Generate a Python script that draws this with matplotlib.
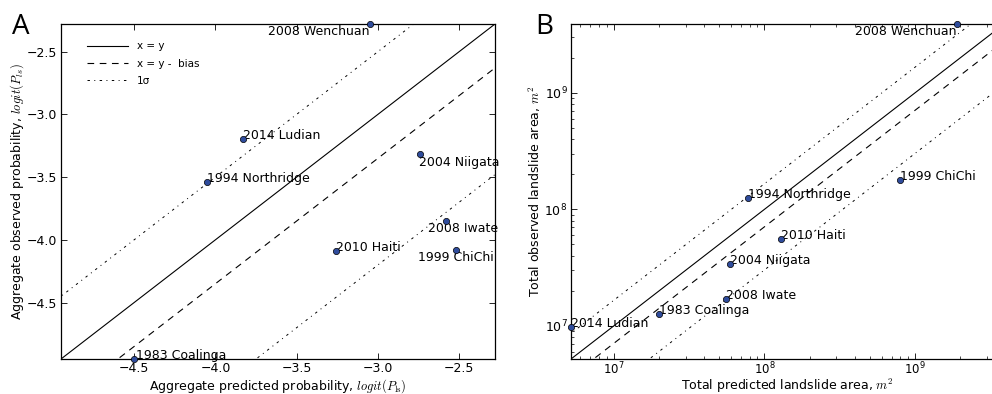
import numpy as np
import matplotlib
matplotlib.use("Agg")
import matplotlib.pyplot as plt

# ---- Data: panel A (logit of aggregate probability) ----
events = ["2008 Wenchuan", "2014 Ludian", "1994 Northridge", "2004 Niigata",
          "2008 Iwate", "1999 ChiChi", "2010 Haiti", "1983 Coalinga"]
a_pred = [-3.05, -3.83, -4.05, -2.74, -2.58, -2.52, -3.26, -4.50]
a_obs = [-2.28, -3.20, -3.54, -3.32, -3.85, -4.08, -4.09, -4.95]
a_bias = 0.35
a_sigma = 0.85

# ---- Data: panel B (total landslide area, m^2) ----
b_pred = [1.9e9, 5.2e6, 7.8e7, 5.9e7, 5.6e7, 7.9e8, 1.29e8, 2.0e7]
b_obs = [3.9e9, 9.8e6, 1.26e8, 3.4e7, 1.7e7, 1.8e8, 5.6e7, 1.26e7]
b_bias = 0.15   # in log10 units
b_sigma = 0.37  # in log10 units

plt.rcParams['mathtext.fontset'] = 'cm'
plt.rcParams['font.family'] = ['DejaVu Sans']

W, H = 992, 394
fig = plt.figure(figsize=(W / 100, H / 100), dpi=100)
fig.patch.set_facecolor('white')

axA = fig.add_axes([61 / W, 35 / H, 434 / W, 335 / H])
axB = fig.add_axes([571 / W, 35 / H, 433 / W, 335 / H])

mcol = '#2f4c9c'
fs = 9
dashdot = (0, (2.5, 4.5, 1, 4.5))

def style_ax(ax):
    ax.tick_params(which='both', direction='in', top=True, right=True, labelsize=fs, pad=2.5)
    ax.tick_params(which='major', length=4, width=0.6)
    ax.tick_params(which='minor', length=2, width=0.5)
    for s in ax.spines.values():
        s.set_linewidth(0.9)

# ---- Panel A ----
lo = min(min(a_pred), min(a_obs))
hi = max(max(a_pred), max(a_obs))
xs = np.array([lo - 1, hi + 1])
axA.plot(xs, xs, '-', color='k', lw=0.8, label='x = y')
axA.plot(xs, xs - a_bias, color='k', lw=0.8, dashes=(6, 5), label='x = y -  bias')
axA.plot(xs, xs - a_bias + a_sigma, color='k', lw=0.7, linestyle=dashdot, label='1σ')
axA.plot(xs, xs - a_bias - a_sigma, color='k', lw=0.7, linestyle=dashdot)
axA.plot(a_pred, a_obs, 'o', ms=4.5, mfc=mcol, mec='k', mew=0.5, clip_on=False, zorder=5)
axA.set_xlim(lo, hi)
axA.set_ylim(lo, hi)
axA.set_xticks([-4.5, -4.0, -3.5, -3.0, -2.5])
axA.set_yticks([-4.5, -4.0, -3.5, -3.0, -2.5])

a_offsets = {
    "2008 Wenchuan": (0, -1, 'right', 'top'),
    "2014 Ludian": (0, 0, 'left', 'baseline'),
    "1994 Northridge": (0, 0, 'left', 'baseline'),
    "2004 Niigata": (-1, -1, 'left', 'top'),
    "2008 Iwate": (12, -1, 'center', 'top'),
    "1999 ChiChi": (0, -1, 'center', 'top'),
    "2010 Haiti": (0, 0, 'left', 'baseline'),
    "1983 Coalinga": (1, 0, 'left', 'baseline'),
}
for name, x, y in zip(events, a_pred, a_obs):
    dx, dy, ha, va = a_offsets[name]
    axA.annotate(name, (x, y), xytext=(dx, dy), textcoords='offset points',
                 ha=ha, va=va, fontsize=fs)

axA.set_xlabel(r'Aggregate predicted probability, $logit(P_{\rm ls})$', fontsize=fs, labelpad=1)
axA.set_ylabel(r'Aggregate observed probability, $logit(P_{ls})$', fontsize=fs, labelpad=1)
leg = axA.legend(loc='upper left', bbox_to_anchor=(0.035, 0.979), frameon=False,
                 fontsize=7.5, handlelength=4, borderaxespad=0.6, labelspacing=0.7)
style_ax(axA)

# ---- Panel B ----
blo = min(min(b_pred), min(b_obs))
bhi = max(max(b_pred), max(b_obs))
bx = np.array([blo / 10, bhi * 10])
axB.plot(bx, bx, '-', color='k', lw=0.8)
axB.plot(bx, bx * 10 ** (-b_bias), color='k', lw=0.8, dashes=(6, 5))
axB.plot(bx, bx * 10 ** (-b_bias + b_sigma), color='k', lw=0.7, linestyle=dashdot)
axB.plot(bx, bx * 10 ** (-b_bias - b_sigma), color='k', lw=0.7, linestyle=dashdot)
axB.plot(b_pred, b_obs, 'o', ms=4.5, mfc=mcol, mec='k', mew=0.5, clip_on=False, zorder=5)
axB.set_xscale('log')
axB.set_yscale('log')
axB.set_xlim(blo, bhi)
axB.set_ylim(blo, bhi)

b_offsets = {
    "2008 Wenchuan": (0, -1, 'right', 'top'),
}
for name, x, y in zip(events, b_pred, b_obs):
    dx, dy, ha, va = b_offsets.get(name, (0, 0, 'left', 'baseline'))
    axB.annotate(name, (x, y), xytext=(dx, dy), textcoords='offset points',
                 ha=ha, va=va, fontsize=fs)

axB.set_xlabel(r'Total predicted landslide area, $m^2$', fontsize=fs, labelpad=0)
axB.set_ylabel(r'Total observed landslide area, $m^2$', fontsize=fs, labelpad=1)
style_ax(axB)
axB.tick_params(axis='x', pad=1, labelsize=8.5)

fig.text(12 / W, 1 - 34 / H, 'A', fontsize=20, family='Open Sans', ha='left', va='baseline')
fig.text(535 / W, 1 - 34 / H, 'B', fontsize=20, family='Open Sans', ha='left', va='baseline')

fig.savefig('out.png', dpi=100, facecolor='white')
